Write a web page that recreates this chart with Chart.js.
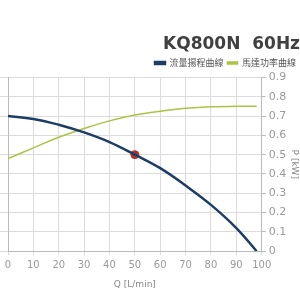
<!DOCTYPE html>
<html>
<head>
<meta charset="utf-8">
<script src="https://cdn.jsdelivr.net/npm/chart.js@4"></script>
<style>
  html, body { margin: 0; padding: 0; background: #fff; }
  #wrap { width: 300px; height: 300px; }
</style>
</head>
<body>
<div id="wrap"><canvas id="pumpChart"></canvas></div>
<script>
// 流量 (L/min)
const flow = [0, 10, 20, 30, 40, 50, 60, 70, 80, 90, 98];
// 揚程 (m) - left axis labels are cut off in the picture
const head = [7.0, 6.85, 6.55, 6.15, 5.65, 5.0, 4.3, 3.4, 2.4, 1.2, 0];
// 功率 (kW)
const power = [0.48, 0.535, 0.59, 0.635, 0.675, 0.705, 0.725, 0.74, 0.748, 0.75, 0.75];
// 運轉點
const dutyPoint = { x: 50, y: 5.0 };

const blue = '#1c3d66';
const green = '#a9c443';
const gridColor = '#dcdcdc';
const tickColor = '#9a9a9a';

const ctx = document.getElementById('pumpChart').getContext('2d');
new Chart(ctx, {
    type: 'line',
    data: {
        datasets: [
            {
                label: '流量揚程曲線',
                data: flow.map((q, i) => ({ x: q, y: head[i] })),
                borderColor: blue,
                backgroundColor: blue,
                borderWidth: 2.5,
                pointRadius: 0,
                tension: 0.4,
                yAxisID: 'yH'
            },
            {
                label: '馬達功率曲線',
                data: flow.map((q, i) => ({ x: q, y: power[i] })),
                borderColor: green,
                backgroundColor: green,
                borderWidth: 1.5,
                pointRadius: 0,
                tension: 0.4,
                yAxisID: 'yP'
            },
            {
                label: 'point',
                data: [dutyPoint],
                showLine: false,
                pointRadius: 4,
                pointBackgroundColor: '#b5302a',
                pointBorderColor: '#b5302a',
                yAxisID: 'yH'
            }
        ]
    },
    options: {
        responsive: true,
        maintainAspectRatio: false,
        animation: false,
        layout: { padding: { left: 0, right: 0, top: 34, bottom: 6 } },
        plugins: {
            title: {
                display: true,
                text: 'KQ800N  60Hz',
                align: 'end',
                color: '#404040',
                font: { family: 'DejaVu Sans', size: 17, weight: 'bold' },
                padding: { top: 0, bottom: 0 }
            },
            legend: {
                align: 'end',
                labels: {
                    filter: item => item.text !== 'point',
                    boxWidth: 10,
                    boxHeight: 2,
                    padding: 4,
                    color: '#555',
                    font: { family: 'Noto Sans CJK TC', size: 9 }
                }
            },
            tooltip: { enabled: false }
        },
        scales: {
            x: {
                type: 'linear',
                min: 0,
                max: 100,
                ticks: { stepSize: 10, color: tickColor, font: { family: 'DejaVu Sans', size: 10 }, maxRotation: 0, padding: 4 },
                grid: { color: gridColor, tickLength: 4 },
                border: { color: '#bbb' },
                title: { display: true, text: 'Q [L/min]', color: '#888', font: { family: 'DejaVu Sans', size: 9 }, padding: { top: 4 } }
            },
            yH: {
                position: 'left',
                min: 0,
                max: 9,
                ticks: { stepSize: 1, display: false },
                grid: { color: gridColor, tickLength: 8 },
                border: { color: '#bbb' }
            },
            yP: {
                position: 'right',
                min: 0,
                max: 0.9,
                ticks: { stepSize: 0.1, color: tickColor, font: { family: 'DejaVu Sans', size: 11 }, padding: 3 },
                grid: { drawOnChartArea: false, color: '#bbb', tickLength: 4 },
                border: { color: '#bbb' },
                title: { display: true, text: 'P [kW]', color: '#888', font: { family: 'DejaVu Sans', size: 9 }, padding: 0 }
            }
        }
    }
});
</script>
</body>
</html>
